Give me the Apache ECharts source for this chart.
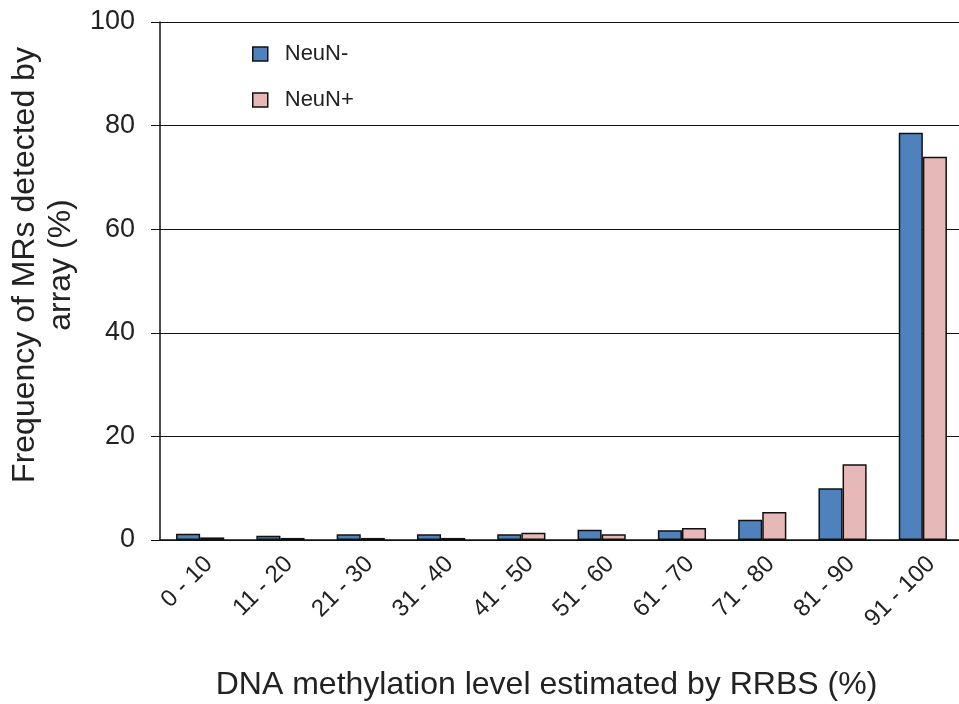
<!DOCTYPE html>
<html>
<head>
<meta charset="utf-8">
<script src="https://cdn.jsdelivr.net/npm/echarts@6/dist/echarts.min.js"></script>
<style>html,body{margin:0;padding:0;background:#fff}#c{width:959px;height:704px}</style>
</head>
<body>
<div id="c"></div>
<script>
const categories = ['0 - 10','11 - 20','21 - 30','31 - 40','41 - 50','51 - 60','61 - 70','71 - 80','81 - 90','91 - 100'];
const neunNeg = [1.2, 0.8, 1.1, 1.1, 1.1, 2.0, 1.9, 3.9, 10.0, 78.6];
const neunPos = [0.5, 0.4, 0.4, 0.4, 1.4, 1.1, 2.3, 5.4, 14.6, 74.0];
const yTicks = [0, 20, 40, 60, 80, 100];

const font = 'Liberation Sans, Arial, sans-serif';
const chart = echarts.init(document.getElementById('c'));
chart.setOption({
  animation: false,
  backgroundColor: '#fff',
  grid: { left: 160, top: 22, width: 803, height: 518, containLabel: false, outerBoundsMode: 'none' },
  legend: {
    orient: 'vertical', left: 247, top: 38, itemWidth: 15, itemHeight: 14, itemGap: 24,
    icon: 'rect',
    itemStyle: { borderColor: '#111', borderWidth: 1.5 },
    textStyle: { fontFamily: font, fontSize: 22, color: '#222', padding: [0, 0, 0, 12] },
    data: ['NeuN-', 'NeuN+']
  },
  xAxis: {
    type: 'category', data: categories,
    axisLine: { lineStyle: { color: '#111', width: 1.5 } },
    axisTick: { show: false },
    axisLabel: { rotate: 45, fontFamily: font, fontSize: 24, color: '#222', margin: 12, interval: 0, verticalAlign: 'top' },
    name: 'DNA methylation level estimated by RRBS (%)',
    nameLocation: 'middle', nameGap: 129,
    nameTextStyle: { fontFamily: font, fontSize: 32, color: '#222', padding: [0, 30, 0, 0] }
  },
  yAxis: {
    type: 'value', min: 0, max: 100, interval: 20,
    axisLine: { show: true, lineStyle: { color: '#111', width: 1.5 } },
    axisTick: { show: true, length: 9, lineStyle: { color: '#111' } },
    axisLabel: { fontFamily: font, fontSize: 27, color: '#222', margin: 25,
      formatter: v => yTicks.includes(v) ? String(v) : '' },
    splitLine: { lineStyle: { color: '#111', width: 1.2 } },
    name: 'Frequency of MRs detected by\narray (%)',
    nameLocation: 'middle', nameGap: 76,
    nameTextStyle: { fontFamily: font, fontSize: 32, color: '#222', lineHeight: 36, align: 'center', padding: [0, 0, 0, 32] }
  },
  series: [
    { name: 'NeuN-', type: 'bar', data: neunNeg, barGap: '0%', barCategoryGap: '40%',
      itemStyle: { color: '#4F81BD', borderColor: '#111', borderWidth: 1.5 } },
    { name: 'NeuN+', type: 'bar', data: neunPos,
      itemStyle: { color: '#E6B9B8', borderColor: '#111', borderWidth: 1.5 } }
  ]
});
</script>
</body>
</html>
